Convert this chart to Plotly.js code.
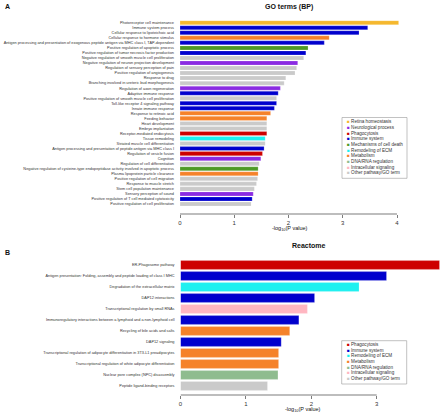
<!DOCTYPE html>
<html><head><meta charset="utf-8">
<script src="https://cdn.plot.ly/plotly-3.0.1.min.js"></script>
<style>html,body{margin:0;padding:0;background:#fff}#chart{width:440px;height:413px}</style>
</head><body><div id="chart"></div>
<script>
// ---- Data ----
const goTerms = [
 "Photoreceptor cell maintenance",
 "Immune system process",
 "Cellular response to lipoteichoic acid",
 "Cellular response to hormone stimulus",
 "Antigen processing and presentation of exogenous peptide antigen via MHC class I, TAP-dependent",
 "Positive regulation of apoptotic process",
 "Positive regulation of tumor necrosis factor production",
 "Negative regulation of smooth muscle cell proliferation",
 "Negative regulation of neuron projection development",
 "Regulation of sensory perception of pain",
 "Positive regulation of angiogenesis",
 "Response to drug",
 "Branching involved in ureteric bud morphogenesis",
 "Regulation of axon regeneration",
 "Adaptive immune response",
 "Positive regulation of smooth muscle cell proliferation",
 "Toll-like receptor 4 signaling pathway",
 "Innate immune response",
 "Response to retinoic acid",
 "Feeding behavior",
 "Heart development",
 "Embryo implantation",
 "Receptor-mediated endocytosis",
 "Tissue remodeling",
 "Striated muscle cell differentiation",
 "Antigen processing and presentation of peptide antigen via MHC class I",
 "Regulation of vesicle fusion",
 "Cognition",
 "Regulation of cell differentiation",
 "Negative regulation of cysteine-type endopeptidase activity involved in apoptotic process",
 "Plasma lipoprotein particle clearance",
 "Positive regulation of cell migration",
 "Response to muscle stretch",
 "Stem cell population maintenance",
 "Sensory perception of sound",
 "Positive regulation of T cell mediated cytotoxicity",
 "Positive regulation of cell proliferation"
];
const goValues = [4.03, 3.46, 3.30, 2.75, 2.66, 2.36, 2.32, 2.28, 2.17, 2.15, 2.12, 1.95, 1.92,
 1.85, 1.81, 1.78, 1.78, 1.74, 1.67, 1.60, 1.60, 1.60, 1.60, 1.57, 1.57, 1.55, 1.52, 1.49,
 1.46, 1.44, 1.44, 1.43, 1.41, 1.37, 1.35, 1.33, 1.31];
const goGroups = [
 "Retina homeostasis","Immune system","Immune system","Metabolism","Immune system",
 "Mechanisms of cell death","Immune system","Other pathway/GO term","Neurological process",
 "Other pathway/GO term","Other pathway/GO term","Other pathway/GO term","Other pathway/GO term",
 "Neurological process","Immune system","Other pathway/GO term","Immune system","Immune system",
 "Metabolism","Metabolism","Other pathway/GO term","Other pathway/GO term","Phagocytosis",
 "Remodeling of ECM","Other pathway/GO term","Immune system","Phagocytosis","Neurological process",
 "Other pathway/GO term","Mechanisms of cell death","Metabolism","Other pathway/GO term",
 "Other pathway/GO term","Other pathway/GO term","Neurological process","Immune system",
 "Other pathway/GO term"
];
const reTerms = [
 "ER-Phagosome pathway",
 "Antigen presentation: Folding, assembly and peptide loading of class I MHC",
 "Degradation of the extracellular matrix",
 "DAP12 interactions",
 "Transcriptional regulation by small RNAs",
 "Immunoregulatory interactions between a lymphoid and a non-lymphoid cell",
 "Recycling of bile acids and salts",
 "DAP12 signaling",
 "Transcriptional regulation of adipocyte differentiation in 3T3-L1 preadipocytes",
 "Transcriptional regulation of white adipocyte differentiation",
 "Nuclear pore complex (NPC) disassembly",
 "Peptide ligand-binding receptors"
];
const reValues = [3.96, 3.15, 2.73, 2.05, 1.94, 1.81, 1.67, 1.54, 1.50, 1.50, 1.49, 1.33];
const reGroups = [
 "Phagocytosis","Immune system","Remodeling of ECM","Immune system","Intracellular signaling",
 "Immune system","Metabolism","Immune system","Metabolism","Metabolism","DNA/RNA regulation",
 "Other pathway/GO term"
];
const goLegend = ["Retina homeostasis","Neurological process","Phagocytosis","Immune system",
 "Mechanisms of cell death","Remodeling of ECM","Metabolism","DNA/RNA regulation",
 "Intracellular signaling","Other pathway/GO term"];
const reLegend = ["Phagocytosis","Immune system","Remodeling of ECM","Metabolism",
 "DNA/RNA regulation","Intracellular signaling","Other pathway/GO term"];
const goTicks = [0, 1, 2, 3, 4];
const reTicks = [0, 1, 2, 3];

// ---- Styling ----
const groupColors = {
 "Retina homeostasis": "#F5B82E",
 "Neurological process": "#8A2BE2",
 "Phagocytosis": "#CD0000",
 "Immune system": "#0000CD",
 "Mechanisms of cell death": "#4E9A26",
 "Remodeling of ECM": "#1EF0F0",
 "Metabolism": "#F5822A",
 "DNA/RNA regulation": "#8FBC8F",
 "Intracellular signaling": "#FFB6C1",
 "Other pathway/GO term": "#CACACA"
};
const W = 440, H = 413;
const px = x => x / W;
const py = y => (H - y) / H;
const FONT = "Liberation Sans, Arial, sans-serif";

const traces = [
 {type: "bar", orientation: "h", x: goValues, y: goTerms, xaxis: "x", yaxis: "y",
  marker: {color: goGroups.map(g => groupColors[g]), line: {color: "rgba(255,255,255,0.5)", width: 0.4}},
  showlegend: false, hoverinfo: "x+y"},
 {type: "bar", orientation: "h", x: reValues, y: reTerms, xaxis: "x2", yaxis: "y2",
  marker: {color: reGroups.map(g => groupColors[g]), line: {color: "rgba(255,255,255,0.5)", width: 0.4}},
  showlegend: false, hoverinfo: "x+y"}
];

const axA = {pos: 214, top: 20.2, bottom: 206.5, x0: 180, x4: 397};
const axB = {pos: 395, top: 259.5, bottom: 391.5, x0: 180.5, x3: 376.7};
const scaleA = (axA.x4 - axA.x0) / 4;
const scaleB = (axB.x3 - axB.x0) / 3;

const xCommon = {showgrid: false, zeroline: false, showline: false, ticks: "outside", ticklen: 2.5,
 tickwidth: 0.7, tickcolor: "#444", tickfont: {size: 6, color: "#333", family: FONT}, anchor: "free",
 fixedrange: true};
const yCommon = {type: "category", autorange: "reversed", showgrid: false, zeroline: false,
 showline: false, ticks: "", ticklabelstandoff: 5, tickfont: {size: 3.85, color: "#333", family: FONT},
 fixedrange: true};

const layout = {
 width: W, height: H, margin: {l: 0, r: 0, t: 0, b: 0},
 paper_bgcolor: "#fff", plot_bgcolor: "#fff", showlegend: false,
 font: {family: FONT},
 bargap: 0.2,
 xaxis: Object.assign({}, xCommon, {domain: [px(axA.x0), 1], range: [0, (W - axA.x0) / scaleA],
  position: py(axA.pos), tickvals: goTicks}),
 yaxis: Object.assign({}, yCommon, {domain: [py(axA.bottom), py(axA.top)], anchor: "x"}),
 xaxis2: Object.assign({}, xCommon, {domain: [px(axB.x0), 1], range: [0, (W - axB.x0) / scaleB],
  position: py(axB.pos), tickvals: reTicks}),
 yaxis2: Object.assign({}, yCommon, {domain: [py(axB.bottom), py(axB.top)], anchor: "x2"}),
 shapes: [
  {type: "line", xref: "x", yref: "paper", x0: goTicks[0], x1: goTicks[goTicks.length - 1],
   y0: py(axA.pos), y1: py(axA.pos), line: {color: "#444", width: 0.7}},
  {type: "line", xref: "x2", yref: "paper", x0: reTicks[0], x1: reTicks[reTicks.length - 1],
   y0: py(axB.pos), y1: py(axB.pos), line: {color: "#444", width: 0.7}},
  {type: "rect", xref: "paper", yref: "paper", x0: px(342), x1: px(407), y0: py(117.5), y1: py(178.3),
   line: {color: "#999", width: 0.6}, fillcolor: "rgba(0,0,0,0)"},
  {type: "rect", xref: "paper", yref: "paper", x0: px(341.7), x1: px(406.7), y0: py(340.7), y1: py(384),
   line: {color: "#999", width: 0.6}, fillcolor: "rgba(0,0,0,0)"}
 ],
 annotations: []
};

const ann = layout.annotations;
function addText(text, x, y, size, bold, xanchor) {
 ann.push({text: bold ? "<b>" + text + "</b>" : text, x: px(x), y: py(y), xref: "paper", yref: "paper",
  showarrow: false, xanchor: xanchor || "center", yanchor: "middle",
  font: {size: size, color: "#111", family: FONT}});
}
addText("A", 3, 7, 7, true, "left");
addText("B", 3, 253, 7, true, "left");
addText("GO terms (BP)", 289, 7.5, 7, true);
addText("Reactome", 308.5, 245, 7, true);
addText("-log<sub>10</sub>(P value)", 289.5, 228, 5.5, false);
addText("-log<sub>10</sub>(P value)", 303, 409, 5.5, false);

function addLegend(items, x, y0, dy) {
 items.forEach((name, i) => {
  ann.push({text: '<span style="color:' + groupColors[name] + '">■</span> ' + name,
   x: px(x), y: py(y0 + i * dy), xref: "paper", yref: "paper", showarrow: false,
   xanchor: "left", yanchor: "middle", font: {size: 4.6, color: "#333", family: FONT}});
 });
}
addLegend(goLegend, 344.5, 121.7, 5.67);
addLegend(reLegend, 344.8, 344.7, 5.6);

Plotly.newPlot("chart", traces, layout, {displayModeBar: false, staticPlot: true});
</script></body></html>
